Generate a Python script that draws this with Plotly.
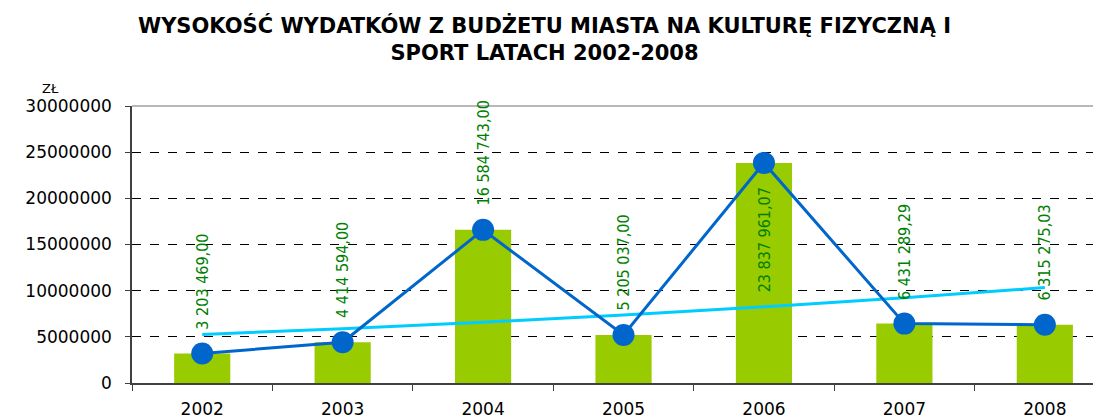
"""Wydatki z budżetu miasta na kulturę fizyczną i sport 2002-2008."""

import numpy as np
import plotly.graph_objects as go

years = ["2002", "2003", "2004", "2005", "2006", "2007", "2008"]
spending = [3203469.00, 4414594.00, 16584743.00, 5205037.00, 23837961.07, 6431289.29, 6315275.03]
value_labels = [
    "3 203 469,00",
    "4 414 594,00",
    "16 584 743,00",
    "5 205 037,00",
    "23 837 961,07",
    "6 431 289,29",
    "6 315 275,03",
]
y_ticks = [0, 5000000, 10000000, 15000000, 20000000, 25000000, 30000000]

# exponential trend line fitted to the data (as in the original spreadsheet chart)
idx = np.arange(len(spending))
slope, intercept = np.polyfit(idx, np.log(spending), 1)
trend = np.exp(intercept + slope * idx)

fig = go.Figure()
fig.add_trace(
    go.Bar(
        x=years,
        y=spending,
        width=0.4,
        marker={"color": "#99CC00", "line": {"width": 0}},
        hoverinfo="skip",
    )
)
fig.add_trace(
    go.Scatter(
        x=years,
        y=trend,
        mode="lines",
        line={"color": "#00CCFF", "width": 3, "shape": "spline"},
        hoverinfo="skip",
    )
)
fig.add_trace(
    go.Scatter(
        x=years,
        y=spending,
        mode="lines+markers",
        line={"color": "#0066CC", "width": 3},
        marker={"color": "#0066CC", "size": 22},
        hoverinfo="skip",
    )
)

label_font = {"family": "DejaVu Sans Condensed, DejaVu Sans", "size": 16, "color": "#008000"}
top = max(spending)
for i, (val, text) in enumerate(zip(spending, value_labels)):
    inside = val == top
    fig.add_annotation(
        x=i,
        y=val,
        text=text,
        textangle=-90,
        showarrow=False,
        font=label_font,
        yanchor="top" if inside else "bottom",
        yshift=-22 if inside else 22,
    )

# unit label above the value axis
fig.add_annotation(
    x=0, xref="paper", xanchor="left", xshift=-92,
    y=1, yref="paper", yanchor="bottom", yshift=8,
    text="ZŁ", showarrow=False,
    font={"family": "DejaVu Sans", "size": 13, "color": "#000000"},
)

# title as an annotation, centred on the whole picture rather than the plot area
fig.add_annotation(
    x=0.426, xref="paper", xanchor="center",
    y=1, yref="paper", yanchor="top", yshift=98 - 3,
    text="<b>WYSOKOŚĆ WYDATKÓW Z BUDŻETU MIASTA NA KULTURĘ FIZYCZNĄ I<br>SPORT LATACH 2002-2008</b>",
    showarrow=False,
    font={"family": "DejaVu Sans", "size": 21, "color": "#000000"},
)

# solid top border of the plot area
fig.add_shape(
    type="line", xref="paper", yref="paper",
    x0=0, x1=1, y0=1, y1=1,
    line={"color": "#A0A0A0", "width": 1.5},
)

fig.update_layout(
    width=1093,
    height=411,
    margin={"l": 124, "r": 0, "t": 98, "b": 34},
    plot_bgcolor="white",
    paper_bgcolor="white",
    showlegend=False,
)
fig.update_xaxes(
    type="category",
    range=[-0.5, 6.4],
    showline=True,
    linecolor="#404040",
    linewidth=1.5,
    ticks="outside",
    tickson="boundaries",
    ticklen=6,
    tickcolor="#404040",
    ticklabelstandoff=10,
    showgrid=False,
    tickfont={"family": "DejaVu Sans", "size": 17, "color": "#000000"},
)
fig.update_yaxes(
    range=[0, 30000000],
    tickvals=y_ticks,
    ticktext=[str(v) for v in y_ticks],
    showline=True,
    linecolor="#404040",
    linewidth=1.5,
    ticks="outside",
    ticklen=5,
    tickcolor="#404040",
    ticklabelstandoff=10,
    showgrid=True,
    gridcolor="#000000",
    gridwidth=1,
    griddash="dash",
    zeroline=False,
    tickfont={"family": "DejaVu Sans", "size": 17, "color": "#000000"},
)

fig.write_html("out.html")
